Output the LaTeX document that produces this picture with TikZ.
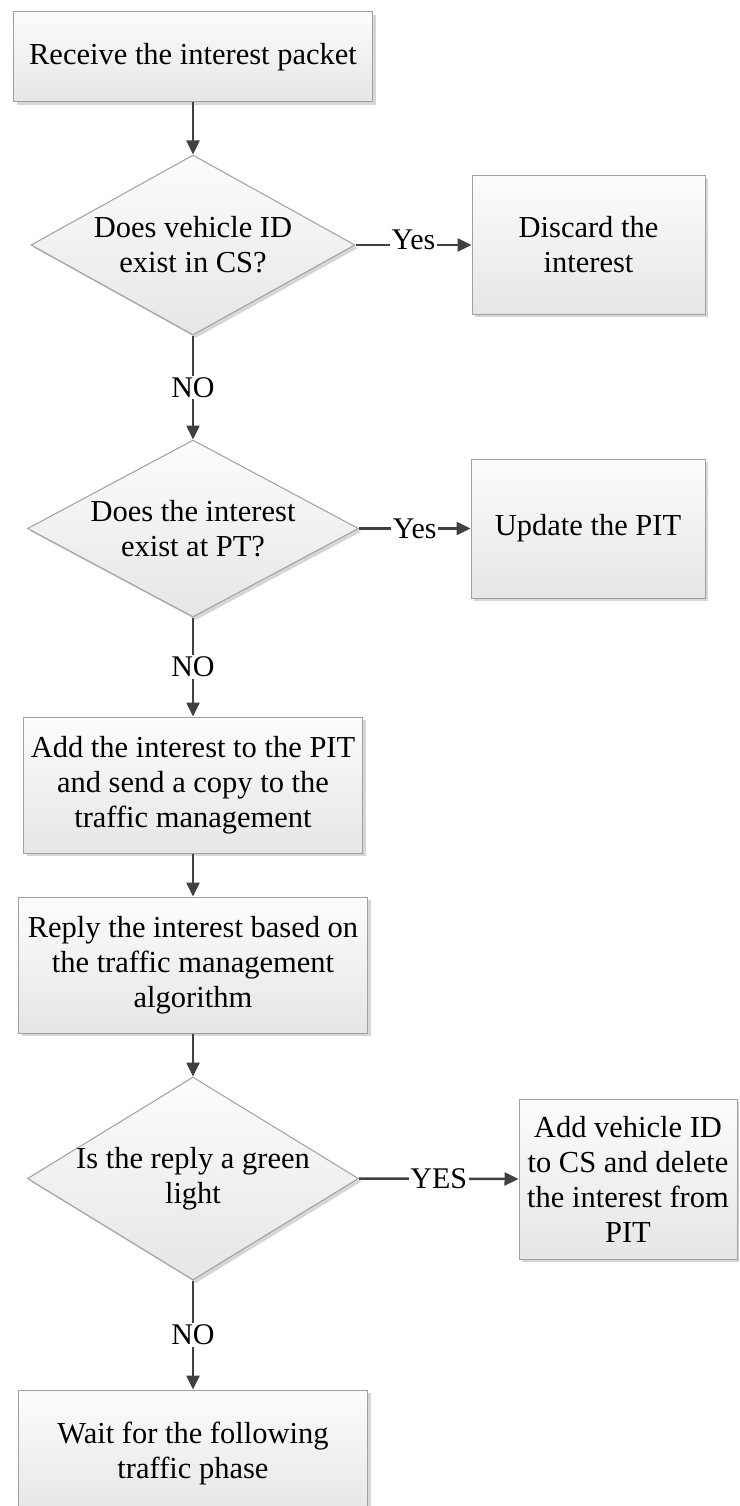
\documentclass[tikz,border=0pt]{standalone}
\usepackage{fontspec}
\setmainfont{Liberation Serif}
\usetikzlibrary{shapes.geometric,arrows.meta,shadows}
\definecolor{edgegray}{HTML}{A0A0A0}
\definecolor{arrowgray}{HTML}{404040}
\definecolor{filltop}{HTML}{FCFCFC}
\definecolor{fillbot}{HTML}{E6E6E6}
\definecolor{shadowgray}{HTML}{C4C4C4}
\tikzset{
  base/.style={draw=edgegray, line width=1pt, top color=filltop, bottom color=fillbot,
    drop shadow={shadow xshift=3pt, shadow yshift=-3pt, fill=shadowgray, opacity=0.7},
    font=\fontsize{30.5}{35}\selectfont, align=center, inner sep=0pt},
  procbox/.style={base, rectangle},
  decision/.style={base, diamond},
  dtext/.style={font=\fontsize{30.5}{35}\selectfont, align=center, inner sep=0pt},
  flow/.style={draw=arrowgray, line width=2.5pt, -{Triangle[length=14pt,width=13pt]}},
  lbl/.style={fill=white, inner sep=1.5pt, font=\fontsize{30}{35}\selectfont, text=black}
}
\begin{document}
\begin{tikzpicture}[x=1pt,y=-1pt]
\useasboundingbox (0,0) rectangle (739,1506);
\clip (0,0) rectangle (739,1506);
\node[procbox, minimum width=359pt, minimum height=90pt] (b1) at (193,57) {Receive the interest packet};
\node[decision, minimum width=324pt, minimum height=180pt,
  label={[dtext]center:Does vehicle ID\\exist in CS?}] (d1) at (193,245) {};
\node[procbox, minimum width=233pt, minimum height=138pt] (b2) at (588.5,245) {Discard the\\interest};
\node[decision, minimum width=331pt, minimum height=177pt,
  label={[dtext]center:Does the interest\\exist at PT?}] (d2) at (193,528.5) {};
\node[procbox, minimum width=234pt, minimum height=139pt] (b3) at (588,528.5) {Update the PIT};
\node[procbox, minimum width=339pt, minimum height=136pt] (b4) at (193,785) {Add the interest to the PIT\\and send a copy to the\\traffic management};
\node[procbox, minimum width=349pt, minimum height=136pt] (b5) at (193,965) {Reply the interest based on\\the traffic management\\algorithm};
\node[decision, minimum width=331pt, minimum height=203pt,
  label={[dtext]center:Is the reply a green\\light}] (d3) at (193,1178.5) {};
\node[procbox, minimum width=218pt, minimum height=160pt] (b6) at (628,1179) {Add vehicle ID\\to CS and delete\\the interest from\\PIT};
\node[procbox, minimum width=349pt, minimum height=127pt] (b7) at (193,1453.5) {Wait for the following\\traffic phase};

\draw[flow] (b1.south) -- (d1.north);
\draw[flow] (d1.east) -- node[lbl, yshift=5pt]{Yes} (b2.west);
\draw[flow] (d1.south) -- node[lbl]{NO} (d2.north);
\draw[flow] (d2.east) -- node[lbl]{Yes} (b3.west);
\draw[flow] (d2.south) -- node[lbl]{NO} (b4.north);
\draw[flow] (b4.south) -- (b5.north);
\draw[flow] (b5.south) -- (d3.north);
\draw[flow] (d3.east) -- node[lbl]{YES} (b6.west);
\draw[flow] (d3.south) -- node[lbl]{NO} (b7.north);
\end{tikzpicture}
\end{document}
